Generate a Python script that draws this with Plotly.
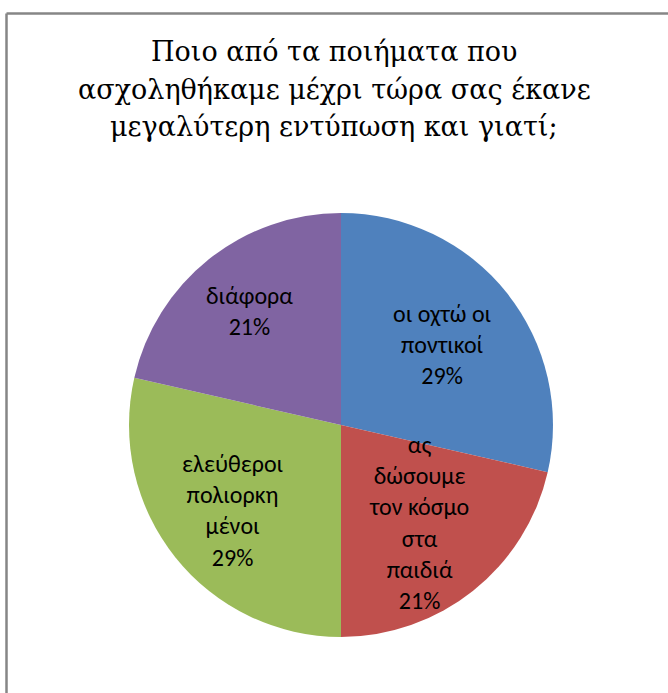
import math
import plotly.graph_objects as go

# Poem titles (slice labels) and number of answers for each
categories = [
    "οι οχτώ οι<br>ποντικοί",
    "ας<br>δώσουμε<br>τον κόσμο<br>στα<br>παιδιά",
    "ελεύθεροι<br>πολιορκη<br>μένοι",
    "διάφορα",
]
votes = [4, 3, 4, 3]
colors = ["#4F81BD", "#C0504D", "#9BBB59", "#8064A2"]

title_lines = [
    "Ποιο από τα ποιήματα που",
    "ασχοληθήκαμε μέχρι τώρα σας έκανε",
    "μεγαλύτερη εντύπωση και γιατί;",
]

W, H = 668, 693
cx, cy, R = 341, 425, 212          # pie centre / radius in pixels (from top)
# how far out (fraction of radius) each label sits along its slice bisector
label_radius = [0.61, 0.59, 0.65, 0.69]

fig = go.Figure(go.Pie(
    labels=categories,
    values=votes,
    sort=False,
    direction="clockwise",
    rotation=0,
    marker=dict(colors=colors, line=dict(width=0)),
    textinfo="none",
    hoverinfo="label+percent",
    showlegend=False,
    domain=dict(x=[(cx - R) / W, (cx + R) / W],
                y=[(H - cy - R) / H, (H - cy + R) / H]),
))

# data labels placed on each slice's bisector
total = sum(votes)
start = 0.0
annotations = []
for name, v, f in zip(categories, votes, label_radius):
    frac = v / total
    mid = (start + frac / 2) * 2 * math.pi
    start += frac
    px = cx + R * f * math.sin(mid)
    py = (H - cy) + R * f * math.cos(mid)
    annotations.append(dict(
        x=px / W, y=py / H, xref="paper", yref="paper",
        xanchor="center", yanchor="middle",
        text=f"{name}<br>{round(frac * 100)}%",
        showarrow=False, align="center",
        font=dict(family="Carlito, Calibri, 'Open Sans', sans-serif", size=24, color="#000000"),
    ))

# chart title, one annotation per line
for i, line in enumerate(title_lines):
    annotations.append(dict(
        x=0.5, y=1 - (52 + 37 * i) / H, xref="paper", yref="paper",
        xanchor="center", yanchor="middle",
        text=line, showarrow=False, align="center",
        font=dict(family="'DejaVu Serif', serif", size=27, color="#000000"),
    ))

fig.update_layout(
    width=W, height=H,
    margin=dict(l=0, r=0, t=0, b=0),
    paper_bgcolor="white",
    annotations=annotations,
    shapes=[
        dict(type="line", xref="paper", yref="paper", x0=6.5 / W, x1=1.01, y0=1 - 13.5 / H, y1=1 - 13.5 / H,
             line=dict(color="#868686", width=2.5)),
        dict(type="line", xref="paper", yref="paper", x0=6.5 / W, x1=6.5 / W, y0=1 - 13.5 / H, y1=-0.01,
             line=dict(color="#868686", width=2.5)),
    ],
)

fig.write_html("out.html")
